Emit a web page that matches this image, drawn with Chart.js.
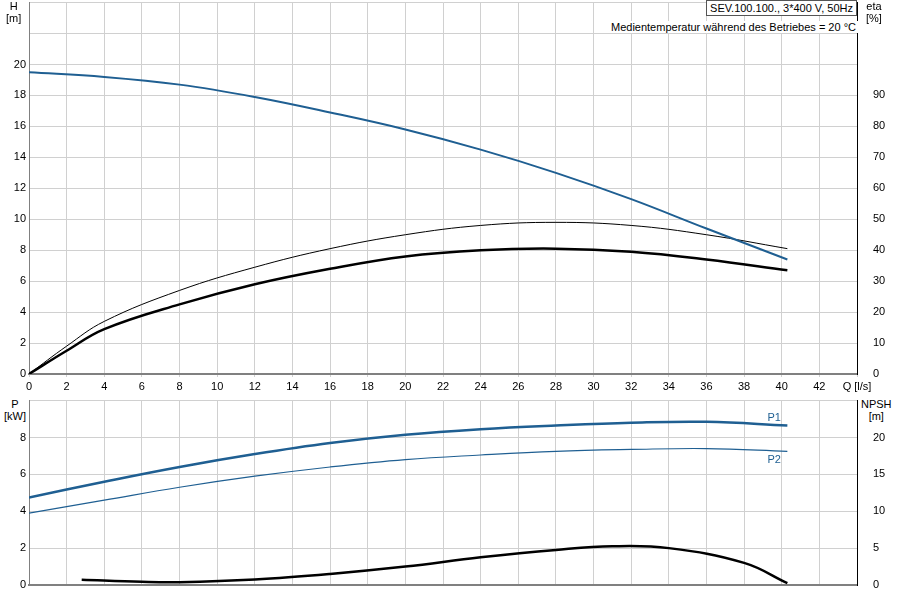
<!DOCTYPE html>
<html><head><meta charset="utf-8">
<script src="https://cdn.jsdelivr.net/npm/chart.js@4/dist/chart.umd.min.js"></script>
<style>
body{margin:0;background:#fff;font-family:"Liberation Sans",Arial,sans-serif;overflow:hidden;}
#c1{position:absolute;left:0;top:-12px;}
#c2{position:absolute;left:0;top:386px;}
.t{position:absolute;font-size:11px;color:#000;line-height:12px;text-align:center;background:#fff;}
</style></head><body>
<canvas id="c1" width="900" height="407"></canvas>
<canvas id="c2" width="900" height="214"></canvas>
<div class="t" style="left:6px;top:0px;">H<br>[m]</div>
<div class="t" style="left:866px;top:0px;">eta<br>[%]</div>
<div class="t" style="right:43px;top:0px;border:1px solid #555;padding:1px 3px;">SEV.100.100., 3*400 V, 50Hz</div>
<div class="t" style="right:42px;top:21px;padding:0 2px;">Medientemperatur während des Betriebes = 20 °C</div>
<div class="t" style="left:4px;top:398px;">P<br>[kW]</div>
<div class="t" style="left:861px;top:398px;">NPSH<br>[m]</div>
<script>
const qH=[0,4,8,12,16,20,24,28,32,36,40.3];
const H=[19.5,19.2,18.7,17.9,16.9,15.8,14.5,13.0,11.3,9.4,7.4];
const qEta=[0,2,4,8,12,16,20,24,28,32,36,40.3];
const etaThin=[0,9,17,27,34.5,40.5,45,48,49,48,45,40.5];
const etaThick=[0,7.5,14.5,22.5,29,34,38,40,40.5,39.5,37,33.5];
const qP=[0,4,8,12,16,20,24,28,32,36,40.3];
const P1=[4.75,5.6,6.4,7.1,7.7,8.15,8.45,8.65,8.8,8.85,8.65];
const P2=[3.9,4.6,5.3,5.9,6.4,6.8,7.05,7.25,7.35,7.4,7.25];
const qN=[2.8,6,8,12,16,20,24,28,31,34,38,40.3];
const NPSH=[0.7,0.43,0.38,0.75,1.5,2.5,3.75,4.75,5.25,5,3,0.25];
const xy=(xs,ys)=>xs.map((x,i)=>({x,y:ys[i]}));
const F={family:"Liberation Sans",size:11};
const grid={color:'#d0d0d0',drawTicks:false};
const ds=(d,c,w,ax)=>({data:d,borderColor:c,borderWidth:w,pointRadius:0,tension:0.4,yAxisID:ax,fill:false});
function fitW(w){return s=>{s.width=w;};}
function fitH(h){return s=>{s.height=h;};}
new Chart(document.getElementById('c1'),{type:'line',
data:{datasets:[ds(xy(qH,H),'#1f5f92',2,'y'),ds(xy(qEta,etaThin),'#000',1,'y2'),ds(xy(qEta,etaThick),'#000',2.5,'y2')]},
options:{responsive:false,animation:false,plugins:{legend:{display:false},tooltip:{enabled:false}},layout:{padding:0},
scales:{
x:{type:'linear',min:0,max:44,afterFit:fitH(21),grid:{...grid,drawTicks:true,tickLength:3},border:{color:'#808080',width:2},
ticks:{stepSize:2,font:F,color:'#000',maxRotation:0,autoSkip:false,callback:v=>v==44?'Q [l/s]':v}},
y:{min:0,max:24,afterFit:fitW(29),grid:{...grid},border:{color:'#808080'},ticks:{stepSize:2,font:F,color:'#000',callback:v=>v>20?'':v}},
y2:{position:'right',min:0,max:120,afterFit:fitW(43),grid:{display:false},border:{color:'#000'},ticks:{stepSize:10,font:F,color:'#000',padding:8,callback:v=>v>90?'':v}}
}}});
const lbl={id:'lbl',afterDatasetsDraw(c){const x=c.scales.x,y=c.scales.y,g=c.ctx;g.save();g.font='11px "Liberation Sans"';g.fillStyle='#1f5f92';g.textAlign='center';
g.fillText('P1',x.getPixelForValue(39.6),y.getPixelForValue(8.9));g.fillText('P2',x.getPixelForValue(39.6),y.getPixelForValue(6.6));g.restore();}};
new Chart(document.getElementById('c2'),{type:'line',
data:{datasets:[ds(xy(qP,P1),'#1f5f92',2.5,'y'),ds(xy(qP,P2),'#1f5f92',1.2,'y'),ds(xy(qN,NPSH),'#000',2.5,'y2')]},
plugins:[lbl],
options:{responsive:false,animation:false,plugins:{legend:{display:false},tooltip:{enabled:false}},layout:{padding:0},
scales:{
x:{type:'linear',min:0,max:44,afterFit:fitH(15),grid:{...grid},border:{color:'#808080',width:2},ticks:{stepSize:2,display:false}},
y:{min:0,max:10,afterFit:fitW(29),grid:{...grid},border:{color:'#808080'},ticks:{stepSize:2,font:F,color:'#000',callback:v=>v>8?'':v}},
y2:{position:'right',min:0,max:25,afterFit:fitW(43),grid:{display:false},border:{color:'#000'},ticks:{stepSize:5,font:F,color:'#000',padding:8,callback:v=>v>20?'':v}}
}}});
</script></body></html>
